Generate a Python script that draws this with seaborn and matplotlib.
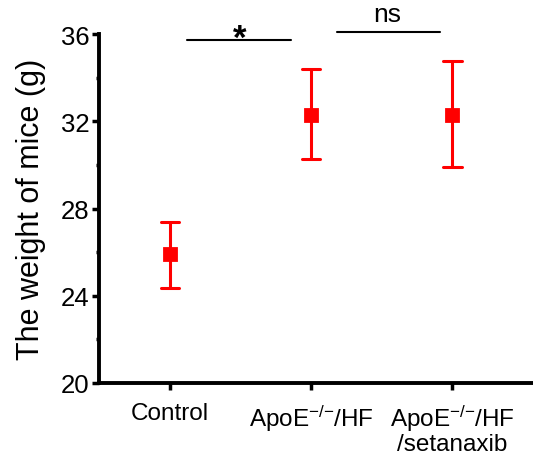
import pandas as pd
import matplotlib.pyplot as plt
import seaborn as sns
import numpy as np
from matplotlib.ticker import MultipleLocator

# Values: mean with lower / upper error limits
groups = ['Control', 'ApoE$^{{-}/{-}}$/HF', 'ApoE$^{{-}/{-}}$/HF\n/setanaxib']
means = [25.9, 32.3, 32.3]
lower = [24.35, 30.25, 29.9]
upper = [27.4, 34.4, 34.75]

# Long table: lower, mean, upper per group; median = mean, min/max = bar ends
df = pd.DataFrame({
    'group': np.repeat(groups, 3),
    'weight': np.ravel(np.column_stack([lower, means, upper])),
})

sns.set_style('ticks')
plt.rcParams['font.family'] = ['Liberation Sans', 'DejaVu Sans']
plt.rcParams['mathtext.fontset'] = 'custom'
plt.rcParams['mathtext.rm'] = 'Liberation Sans'
plt.rcParams['mathtext.it'] = 'Liberation Sans'
plt.rcParams['text.color'] = 'black'
plt.rcParams['axes.labelcolor'] = 'black'
plt.rcParams['xtick.color'] = 'black'
plt.rcParams['ytick.color'] = 'black'
plt.rcParams['axes.edgecolor'] = 'black'

fig = plt.figure(figsize=(5.33, 4.56), dpi=100)
ax = fig.add_axes([0.186, 0.158, 0.814, 0.765])

sns.pointplot(data=df, x='group', y='weight', estimator='median',
              errorbar=('pi', 100), color='#ff0000', markers='s',
              linestyle='none', capsize=0.13, err_kws={'linewidth': 2.2},
              markersize=8, ax=ax)

ax.set_ylim(20, 36)
ax.set_xlim(-0.5, 2.57)
ax.yaxis.set_major_locator(MultipleLocator(4))
ax.yaxis.set_minor_locator(MultipleLocator(2))
ax.set_xlabel('')
ax.set_ylabel('The weight of mice (g)', fontsize=22, labelpad=11)

for s in ['top', 'right']:
    ax.spines[s].set_visible(False)
for s in ['left', 'bottom']:
    ax.spines[s].set_linewidth(2.8)
ax.tick_params(axis='both', which='major', width=2.5, length=5)
ax.tick_params(axis='y', which='major', labelsize=18.5, pad=2)
ax.tick_params(axis='x', which='major', labelsize=17.5, pad=9)
ax.tick_params(axis='y', which='minor', width=2.5, length=2.5)
for lab in ax.get_xticklabels():
    lab.set_linespacing(1.05)

# Significance bars
ax.plot([0.12, 0.855], [35.72, 35.72], color='black', lw=1.5, clip_on=False)
ax.text(0.495, 35.38, '*', ha='center', va='baseline', fontsize=25,
        fontweight='bold')
ax.plot([1.18, 1.915], [36.08, 36.08], color='black', lw=1.5, clip_on=False)
ax.text(1.54, 36.6, 'ns', ha='center', va='baseline', fontsize=19)

fig.savefig('out.png', dpi=100)
